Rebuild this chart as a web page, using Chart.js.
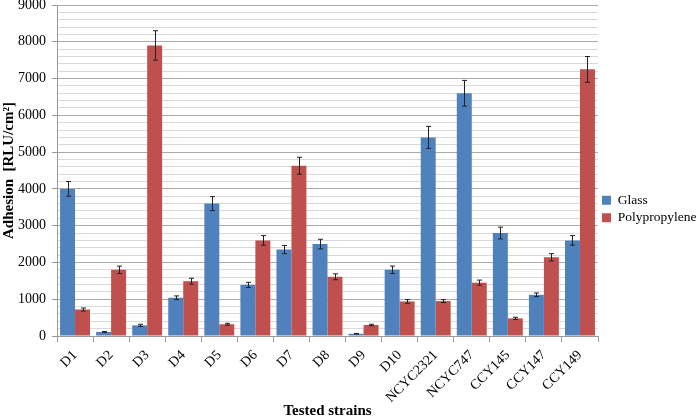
<!DOCTYPE html>
<html>
<head>
<meta charset="utf-8">
<script src="https://cdn.jsdelivr.net/npm/chart.js@4"></script>
<style>
  body { margin: 0; background: #fff; }
  #wrap { width: 697px; height: 418px; }
</style>
</head>
<body>
<div id="wrap"><canvas id="chart"></canvas></div>
<script>
// data
const strains = ['D1', 'D2', 'D3', 'D4', 'D5', 'D6', 'D7', 'D8', 'D9', 'D10',
    'NCYC2321', 'NCYC747', 'CCY145', 'CCY147', 'CCY149'];
const glass = [4000, 110, 290, 1040, 3600, 1390, 2350, 2500, 60, 1800, 5400, 6600, 2800, 1120, 2600];
const glassErr = [200, 10, 30, 50, 190, 70, 110, 130, 8, 100, 300, 350, 160, 50, 130];
const poly = [720, 1800, 7900, 1490, 320, 2600, 4630, 1610, 300, 940, 950, 1450, 480, 2140, 7250];
const polyErr = [40, 100, 400, 80, 25, 130, 230, 80, 20, 50, 40, 70, 30, 100, 350];

const serif = "'Liberation Serif', 'Times New Roman', serif";

// error bars drawn on top of each bar using the chart scales
const errorBars = {
    id: 'errorBars',
    afterDatasetsDraw(chart) {
        const ctx = chart.ctx;
        const y = chart.scales.y;
        const errs = [glassErr, polyErr];
        ctx.save();
        ctx.strokeStyle = '#222';
        ctx.lineWidth = 1;
        chart.data.datasets.forEach(function (ds, di) {
            chart.getDatasetMeta(di).data.forEach(function (bar, i) {
                const v = ds.data[i];
                const e = errs[di][i];
                const top = y.getPixelForValue(v + e);
                const bot = y.getPixelForValue(v - e);
                const x = Math.round(bar.x) + 0.5;
                ctx.beginPath();
                ctx.moveTo(x, top); ctx.lineTo(x, bot);
                ctx.moveTo(x - 2.5, top); ctx.lineTo(x + 2.5, top);
                ctx.moveTo(x - 2.5, bot); ctx.lineTo(x + 2.5, bot);
                ctx.stroke();
            });
        });
        ctx.restore();
    }
};

new Chart(document.getElementById('chart'), {
    type: 'bar',
    data: {
        labels: strains,
        datasets: [
            { label: 'Glass', data: glass, backgroundColor: '#4F81BD' },
            { label: 'Polypropylene', data: poly, backgroundColor: '#C0504D' }
        ]
    },
    options: {
        responsive: true,
        maintainAspectRatio: false,
        animation: false,
        datasets: { bar: { categoryPercentage: 0.83, barPercentage: 1.0 } },
        layout: { padding: 0 },
        plugins: {
            tooltip: { enabled: false },
            legend: {
                position: 'right',
                maxWidth: 99,
                labels: {
                    font: { family: serif, size: 13.5 },
                    color: '#000',
                    boxWidth: 9,
                    boxHeight: 9,
                    padding: 4
                }
            }
        },
        scales: {
            x: {
                afterFit: function (s) {
                    s.height = 82;
                    s.paddingLeft = 0;
                    s.paddingRight = 0;
                },
                grid: {
                    offset: true,
                    drawOnChartArea: false,
                    tickLength: 6,
                    color: '#999'
                },
                border: { color: '#999' },
                ticks: {
                    font: { family: serif, size: 14 },
                    color: '#000',
                    padding: 5,
                    minRotation: 45,
                    maxRotation: 45,
                    autoSkip: false
                },
                title: {
                    display: true,
                    text: 'Tested strains',
                    font: { family: serif, size: 15, weight: 'bold' },
                    color: '#000',
                    padding: { top: 0, bottom: -2 }
                }
            },
            y: {
                min: 0,
                max: 9000,
                afterFit: function (s) {
                    s.width = 57;
                    s.paddingTop = 5;
                    s.paddingBottom = 0;
                },
                border: { color: '#999' },
                grid: {
                    color: function (c) { return c.tick.value % 1000 === 0 ? '#aaaaaa' : '#d9d9d9'; },
                    tickColor: function (c) { return c.tick.value % 1000 === 0 ? '#999' : 'rgba(0,0,0,0)'; },
                    tickLength: 5
                },
                ticks: {
                    stepSize: 200,
                    autoSkip: false,
                    padding: 6,
                    font: { family: serif, size: 14 },
                    color: '#000',
                    callback: function (v) { return v % 1000 === 0 ? v : ''; }
                },
                title: {
                    display: true,
                    text: 'Adhesion  [RLU/cm²]',
                    font: { family: serif, size: 15, weight: 'bold' },
                    color: '#000',
                    padding: { top: 0, bottom: 0 }
                }
            }
        }
    },
    plugins: [errorBars]
});
</script>
</body>
</html>
